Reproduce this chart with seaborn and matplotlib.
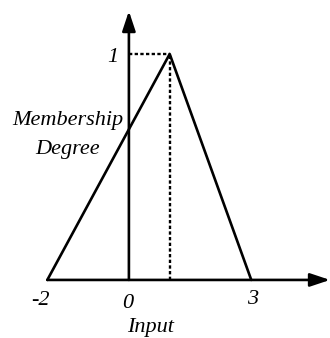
import matplotlib
matplotlib.use("Agg")
import matplotlib.pyplot as plt
import seaborn as sns
import pandas as pd

# membership function vertices
inputs = [-2, 1, 3]
degrees = [0, 1, 0]
peak_x = 1
peak_y = 1
xtick_vals = [-2, 0, 3]
xtick_labels = ["-2", "0", "3"]
ytick_label = "1"
x_label = "Input"
y_label_lines = ["Membership", "Degree"]

sns.set_theme(style="white")
plt.rcParams['font.family'] = ['Liberation Serif']

fig = plt.figure(figsize=(3.3, 3.38), dpi=100)
ax = fig.add_axes([0, 0, 1, 1])
ax.set_xlim(-3.16, 4.93)
ax.set_ylim(-0.257, 1.239)
ax.axis("off")

df = pd.DataFrame({"x": inputs, "y": degrees})
sns.lineplot(data=df, x="x", y="y", ax=ax, color="black", lw=1.9, sort=False,
             estimator=None)

# dotted guides
dot = dict(color="black", lw=1.7, ls=(0, (1.4, 1.0)))
ax.plot([0, peak_x], [peak_y, peak_y], **dot)
ax.plot([peak_x, peak_x], [0, peak_y], **dot)

# axes with arrows
ap = dict(arrowstyle="-|>,head_length=0.6,head_width=0.2", lw=1.9, color="black",
          shrinkA=0, shrinkB=0, mutation_scale=20)
ax.annotate("", xy=(4.93, 0), xytext=(-2, 0), arrowprops=ap)
ax.annotate("", xy=(0, 1.19), xytext=(0, 0), arrowprops=ap)

fs = 16
tk = dict(fontsize=fs, style="italic", family="Liberation Serif", color="black",
          ha="center", va="baseline")
x_off = {-2: (-0.17, -0.111), 0: (-0.04, -0.124), 3: (0.03, -0.106)}
for v, lab in zip(xtick_vals, xtick_labels):
    dx, yy = x_off[v]
    ax.text(v + dx, yy, lab, **tk)
ax.text(-0.40, peak_y - 0.035, ytick_label, **tk)
ax.text(0.527, -0.230, x_label, **tk)
ax.text(-1.495, 0.686, y_label_lines[0], **tk)
ax.text(-1.495, 0.558, y_label_lines[1], **tk)

fig.savefig("out.png", dpi=100)
